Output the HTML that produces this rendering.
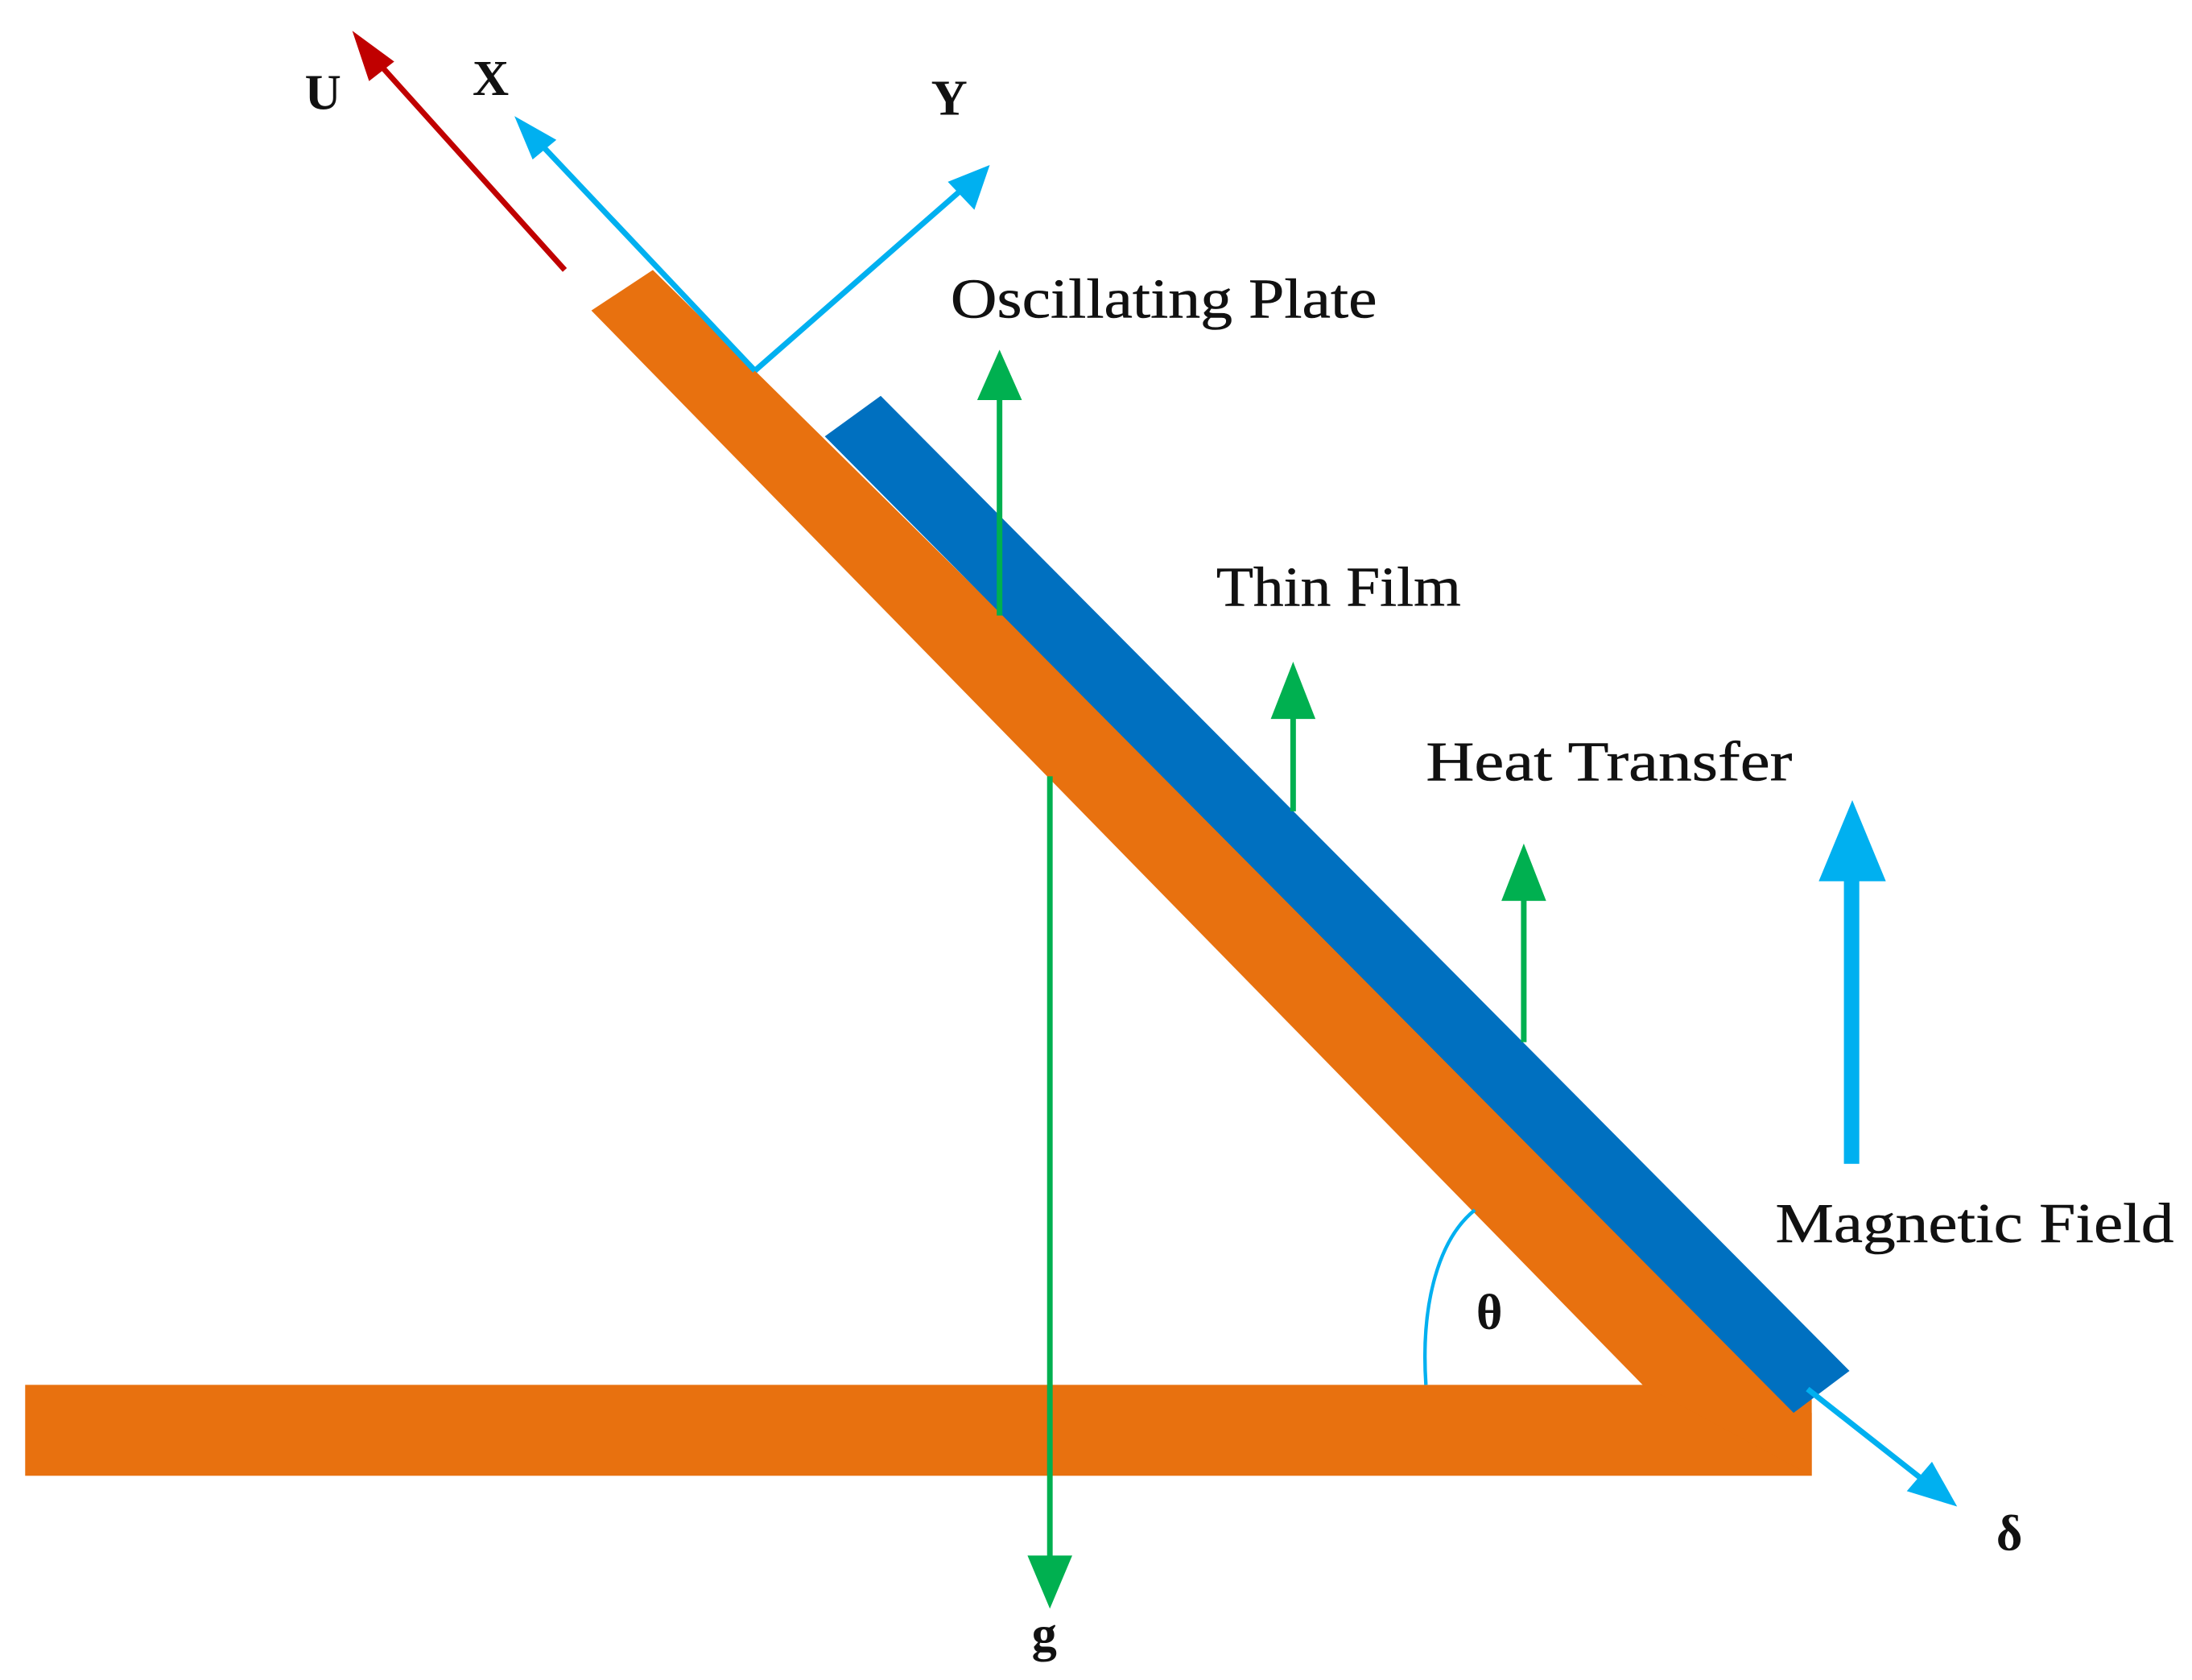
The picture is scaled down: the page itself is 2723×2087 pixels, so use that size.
<!DOCTYPE html>
<html><head><meta charset="utf-8"><style>
html,body{margin:0;padding:0;background:#fff;}
svg{display:block;}
text{font-family:"Liberation Serif",serif;fill:#111;}
</style></head><body>
<svg width="2723" height="2087" viewBox="0 0 1568 1201" preserveAspectRatio="none" xmlns="http://www.w3.org/2000/svg">
<rect x="18" y="990" width="1278" height="65" fill="#e8710f"/>
<polygon points="423,222 467,193 1296,1010 1296,1055 1175,990" fill="#e8710f"/>
<polygon points="590,312 630,283 1323,980 1283,1010" fill="#0070c0"/>
<line x1="404" y1="193" x2="268" y2="42" stroke="#c00000" stroke-width="4"/>
<polygon points="252,22 282,44 264,58" fill="#c00000"/>
<text x="218" y="78" font-size="36" font-weight="bold">U</text>
<line x1="540" y1="265" x2="382" y2="98" stroke="#00b0f0" stroke-width="4"/>
<polygon points="368,83 398,100 381,114" fill="#00b0f0"/>
<text x="338" y="68" font-size="36" font-weight="bold">X</text>
<line x1="540" y1="265" x2="692" y2="132" stroke="#00b0f0" stroke-width="4"/>
<polygon points="708,118 697,150 678,130" fill="#00b0f0"/>
<text x="666" y="82" font-size="36" font-weight="bold">Y</text>
<line x1="715" y1="440" x2="715" y2="280" stroke="#00b050" stroke-width="4"/>
<polygon points="715,250 731,286 699,286" fill="#00b050"/>
<text x="680" y="227" font-size="40" textLength="305" lengthAdjust="spacingAndGlyphs" stroke="#111" stroke-width="0.3">Oscillating Plate</text>
<line x1="751" y1="555" x2="751" y2="1120" stroke="#00b050" stroke-width="4"/>
<polygon points="751,1150 735,1112 767,1112" fill="#00b050"/>
<text x="738" y="1180" font-size="36" font-weight="bold">g</text>
<line x1="925" y1="580" x2="925" y2="505" stroke="#00b050" stroke-width="4"/>
<polygon points="925,473 941,514 909,514" fill="#00b050"/>
<text x="870" y="433" font-size="40" textLength="175" lengthAdjust="spacingAndGlyphs" stroke="#111" stroke-width="0.3">Thin Film</text>
<line x1="1090" y1="745" x2="1090" y2="635" stroke="#00b050" stroke-width="4"/>
<polygon points="1090,603 1106,644 1074,644" fill="#00b050"/>
<text x="1020" y="558" font-size="40" textLength="262" lengthAdjust="spacingAndGlyphs" stroke="#111" stroke-width="0.3">Heat Transfer</text>
<rect x="1319" y="625" width="11" height="207" fill="#00b0f0"/>
<polygon points="1325,572 1349,630 1301,630" fill="#00b0f0"/>
<text x="1270" y="888" font-size="40" textLength="285" lengthAdjust="spacingAndGlyphs" stroke="#111" stroke-width="0.3">Magnetic Field</text>
<line x1="1293" y1="993" x2="1382" y2="1063" stroke="#00b0f0" stroke-width="4"/>
<polygon points="1400,1077 1364,1066 1382,1045" fill="#00b0f0"/>
<text x="1428" y="1108" font-size="36" font-weight="bold">δ</text>
<path d="M1020,990 C1016,930 1030,885 1055,865" fill="none" stroke="#00b0f0" stroke-width="2.5"/>
<text x="1056" y="950" font-size="36" font-weight="bold">θ</text>
</svg>
</body></html>
